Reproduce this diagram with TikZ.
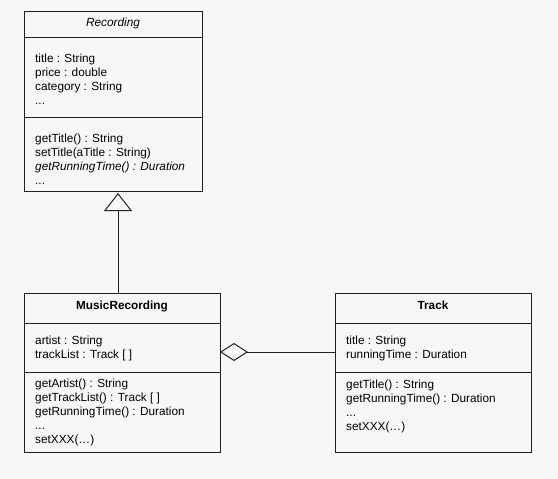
\documentclass[tikz,border=0pt]{standalone}
\usepackage{fontspec}
\setmainfont{Liberation Sans}
\usetikzlibrary{positioning,arrows.meta}

\definecolor{bgcol}{HTML}{F7F7F7}
\definecolor{linecol}{HTML}{231F20}

\tikzset{
	part/.style={draw=linecol, line width=1pt, inner sep=0pt, outer sep=0pt, minimum width=#1},
	classname/.style={anchor=base, inner sep=0pt, font=\fontsize{11.8}{14}\selectfont\bfseries},
	members/.style={anchor=north west, align=left, inner sep=0pt, font=\fontsize{11.8}{14}\selectfont},
}

\begin{document}
\begin{tikzpicture}[x=1pt, y=-1pt]
		\fill[bgcol] (0, 0) rectangle (558, 479);
		\useasboundingbox (0, 0) rectangle (558, 479);
		
		% Recording
		\node[part=178pt, minimum height=26pt, anchor=north west] (rec-name) at (24, 11) {};
		\node[part=178pt, minimum height=80pt, below=0pt of rec-name] (rec-attr) {};
		\node[part=178pt, minimum height=74pt, below=0pt of rec-attr] (rec-meth) {};
		\node[classname, font=\fontsize{11.8}{14}\selectfont\itshape] (rec-title) at ([yshift=-16pt]rec-name.north) {Recording};
		\node[members] (rec-fields) at ([xshift=11pt, yshift=-17pt]rec-attr.north west)
			{title : String\\ price : double\\ category : String\\ ...};
		\node[members] (rec-ops) at ([xshift=11pt, yshift=-16.5pt]rec-meth.north west)
			{getTitle() : String\\ setTitle(aTitle : String)\\ \textit{getRunningTime() : Duration}\\ ...};
		
		% MusicRecording
		\node[part=196pt, minimum height=30pt, anchor=north west] (mr-name) at (24, 293) {};
		\node[part=196pt, minimum height=49pt, below=0pt of mr-name] (mr-attr) {};
		\node[part=196pt, minimum height=80pt, below=0pt of mr-attr] (mr-meth) {};
		\node[classname] (mr-title) at ([yshift=-16pt]mr-name.north) {MusicRecording};
		\node[members] (mr-fields) at ([xshift=11pt, yshift=-12.5pt]mr-attr.north west)
			{artist : String\\ trackList : Track [ ]};
		\node[members] (mr-ops) at ([xshift=11pt, yshift=-6.5pt]mr-meth.north west)
			{getArtist() : String\\ getTrackList() : Track [ ]\\ getRunningTime() : Duration\\ ...\\ setXXX(…)};
		
		% Track
		\node[part=196pt, minimum height=30pt, anchor=north west] (tr-name) at (335, 293) {};
		\node[part=196pt, minimum height=49pt, below=0pt of tr-name] (tr-attr) {};
		\node[part=196pt, minimum height=80pt, below=0pt of tr-attr] (tr-meth) {};
		\node[classname] (tr-title) at ([yshift=-16pt]tr-name.north) {Track};
		\node[members] (tr-fields) at ([xshift=11pt, yshift=-12.5pt]tr-attr.north west)
			{title : String\\ runningTime : Duration};
		\node[members] (tr-ops) at ([xshift=11pt, yshift=-7.5pt]tr-meth.north west)
			{getTitle() : String\\ getRunningTime() : Duration\\ ...\\ setXXX(…)};
		
		% generalization and aggregation
		\draw[linecol, line width=1pt, shorten >=2pt, -{Triangle[open, length=18pt, width=28pt]}]
			([xshift=5pt]rec-meth.south |- mr-name.north) -- ([xshift=5pt]rec-meth.south);
		\draw[linecol, line width=1pt, {Diamond[open, length=28pt, width=18pt]}-]
			([yshift=-4.5pt]mr-attr.east) -- ([yshift=-4.5pt]tr-attr.west);
	\end{tikzpicture}
\end{document}
